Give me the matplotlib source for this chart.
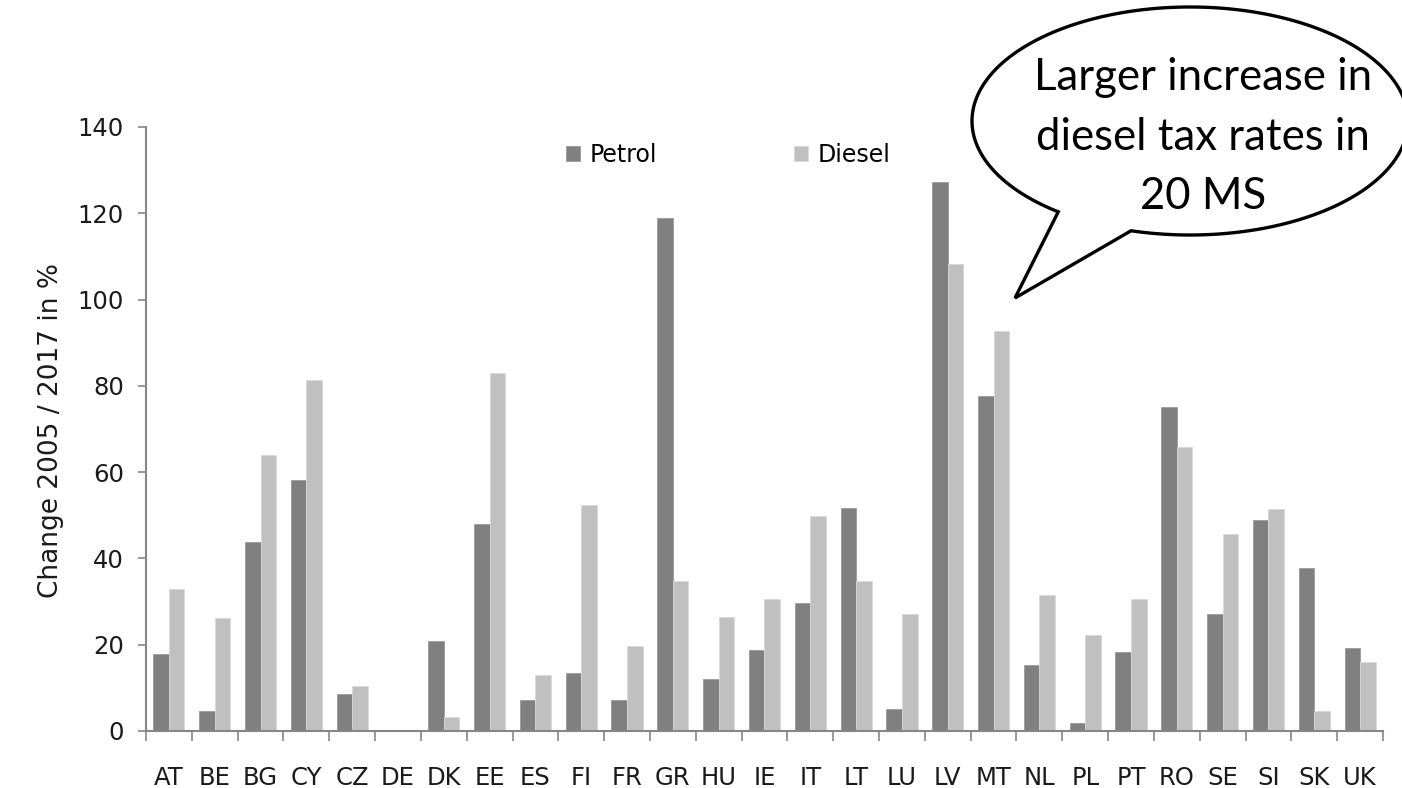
import matplotlib
matplotlib.use("Agg")
import matplotlib.pyplot as plt
import numpy as np
from matplotlib.path import Path
from matplotlib.patches import PathPatch

countries = ["AT", "BE", "BG", "CY", "CZ", "DE", "DK", "EE", "ES", "FI", "FR", "GR", "HU", "IE",
             "IT", "LT", "LU", "LV", "MT", "NL", "PL", "PT", "RO", "SE", "SI", "SK", "UK"]
petrol = [17.8, 4.7, 43.7, 58.2, 8.6, 0.0, 20.8, 48.0, 7.1, 13.4, 7.1, 118.9, 12.0, 18.8,
          29.6, 51.8, 5.2, 127.2, 77.6, 15.4, 1.8, 18.4, 75.1, 27.1, 49.0, 37.7, 19.3]
diesel = [32.9, 26.1, 64.0, 81.4, 10.5, 0.0, 3.2, 83.0, 13.0, 52.3, 19.8, 34.8, 26.5, 30.5,
          49.8, 34.8, 27.1, 108.2, 92.6, 31.5, 22.2, 30.5, 65.8, 45.6, 51.5, 4.7, 15.9]
yticks = [0, 20, 40, 60, 80, 100, 120, 140]
series_names = ["Petrol", "Diesel"]
ylabel = "Change 2005 / 2017 in %"
bubble_lines = "Larger increase in\ndiesel tax rates in\n20 MS"

W, H = 1402, 788
fig = plt.figure(figsize=(W / 100, H / 100), dpi=100)
ax = fig.add_axes([146 / W, 1 - 731 / H, (1383 - 146) / W, (731 - 127) / H])

axis_font = "DejaVu Sans"
grey = "#868686"
x = np.arange(len(countries)) + 0.5
bw = 0.34
ax.bar(x - bw / 2, petrol, bw, color="#808080", edgecolor="#9a9a9a", linewidth=0.6, label=series_names[0])
ax.bar(x + bw / 2, diesel, bw, color="#c0c0c0", edgecolor="#d8d8d8", linewidth=0.6, label=series_names[1])

ax.set_xlim(0, len(countries))
ax.set_ylim(0, 140)
ax.set_yticks(yticks)
ax.set_yticklabels([str(v) for v in yticks], fontsize=17.5, family=axis_font, color="#1a1a1a")
ax.set_xticks(np.arange(len(countries) + 1))
ax.set_xticklabels([])
ax.set_xticks(x, minor=True)
ax.set_xticklabels(countries, minor=True, fontsize=17.5, family=axis_font, color="#1a1a1a")
ax.tick_params(axis="x", which="major", direction="out", length=7, width=1.2, color=grey)
ax.tick_params(axis="x", which="minor", length=0, pad=25)
ax.tick_params(axis="y", direction="out", length=6, width=1.2, color=grey, pad=10)
for s in ["top", "right"]:
    ax.spines[s].set_visible(False)
for s in ["left", "bottom"]:
    ax.spines[s].set_color(grey)
    ax.spines[s].set_linewidth(1.5)

fig.text(51 / W, 1 - 430 / H, ylabel, rotation=90, ha="center", va="center",
         fontsize=19, family=axis_font, color="#1a1a1a")

leg = ax.legend(ncol=2, loc="center", bbox_to_anchor=((728 - 146) / (1383 - 146), (731 - 155) / (731 - 127)),
                frameon=False, prop={"family": axis_font, "size": 17},
                handlelength=0.6, handleheight=0.6, handletextpad=0.4, columnspacing=5.8)

# Speech bubble in pixel coordinates on an overlay axes
ov = fig.add_axes([0, 0, 1, 1])
ov.set_xlim(0, W)
ov.set_ylim(H, 0)
ov.axis("off")
cx, cy, a, b = 1190, 121, 218, 114
base1 = (1058, 212)
base2 = (1132, 229)
tip = (1015, 298)
t1 = np.arctan2((base1[1] - cy) / b, (base1[0] - cx) / a)
t2 = np.arctan2((base2[1] - cy) / b, (base2[0] - cx) / a)
ts = np.linspace(t2, t1 - 2 * np.pi, 400)
pts = [(cx + a * np.cos(t), cy + b * np.sin(t)) for t in ts]
verts = pts + [tip, pts[0]]
codes = [Path.MOVETO] + [Path.LINETO] * (len(verts) - 2) + [Path.CLOSEPOLY]
ov.add_patch(PathPatch(Path(verts, codes), facecolor="white", edgecolor="black", linewidth=2.4,
                       joinstyle="miter"))
ov.text(1203, 137, bubble_lines, ha="center", va="center", fontsize=31.5, family="Lato",
        linespacing=1.55, color="black")

fig.savefig("out.png", dpi=100)
